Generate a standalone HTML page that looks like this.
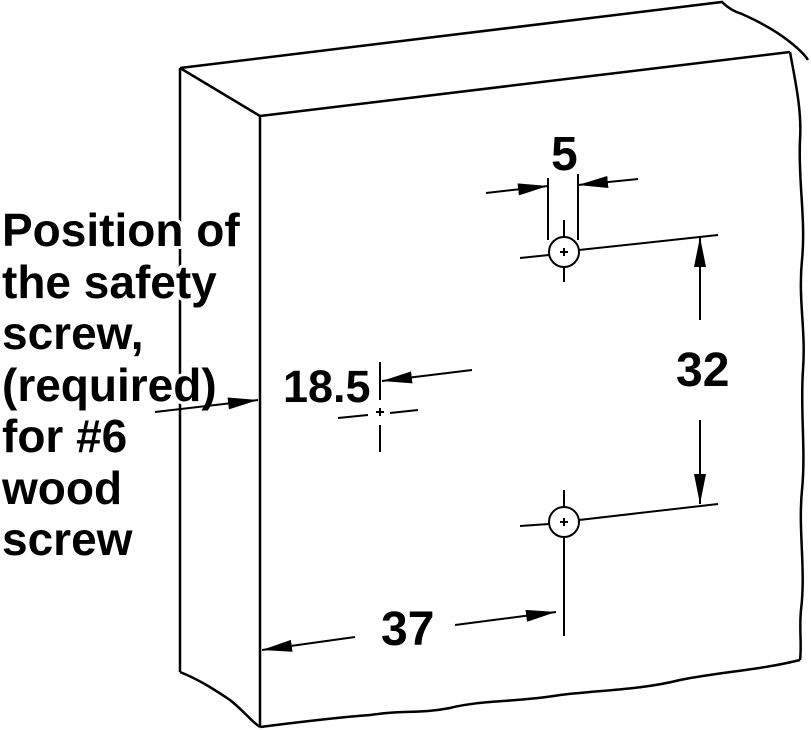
<!DOCTYPE html>
<html><head><meta charset="utf-8"><style>
html,body{margin:0;padding:0;background:#fff;}
svg{display:block}
text{font-family:"Liberation Sans",Arial,sans-serif;font-weight:bold;fill:#000}
.lbl text{stroke:#fff;stroke-width:6;paint-order:stroke;stroke-linejoin:round}
</style></head><body>
<svg width="811" height="730" viewBox="0 0 811 730" xmlns="http://www.w3.org/2000/svg">
<defs>
<marker id="b" viewBox="0 0 30 12" refX="30" refY="6" markerWidth="30" markerHeight="12" markerUnits="userSpaceOnUse" orient="auto">
<path d="M0,0 L30,6 L0,12 z" fill="#000"/></marker>
</defs>
<g fill="none" stroke="#000" stroke-width="2.5">
<path d="M180,68 L722,2 C728,8 735,12 742,14 C760,22 775,30 790,42 C800,50 805,55 808,60"/>
<path d="M260,116 L790,52"/>
<path d="M180,68 L260,116 L260,727"/>
<path d="M180,68 L180,672"/>
<path d="M180,672 C200,680 215,690 230,700 C245,712 252,722 260,727"/>
<path d="M260,727 C300,722 330,718 370,715 C400,710 420,714 450,708 C480,700 520,702 560,695 C600,690 640,690 680,680 C720,672 760,670 800,660"/>
<path d="M790,52 C795,80 802,110 800,140 C798,180 806,220 802,260 C798,300 806,330 803,370 C800,410 806,450 802,490 C798,530 806,570 801,610 C799,630 802,645 800,660"/>
</g>
<g class="lbl" font-size="46">
<text x="2" y="246">Position of</text>
<text x="2" y="298">the safety</text>
<text x="2" y="349">screw,</text>
<text x="2" y="401">(required)</text>
<text x="2" y="452">for #6</text>
<text x="2" y="504">wood</text>
<text x="2" y="555">screw</text>
</g>
<g fill="none" stroke="#000" stroke-width="2">
<line x1="548" y1="178" x2="548" y2="240"/>
<line x1="578" y1="174" x2="578" y2="240"/>
<line x1="486" y1="193" x2="548" y2="186" marker-end="url(#b)"/>
<line x1="638" y1="179" x2="578" y2="185" marker-end="url(#b)"/>
<circle cx="564" cy="252" r="15" fill="#fff"/>
<circle cx="564" cy="522" r="15" fill="#fff"/>
<line x1="520" y1="258" x2="549" y2="255"/>
<line x1="579" y1="250" x2="718" y2="235"/>
<line x1="520" y1="526" x2="549" y2="524"/>
<line x1="579" y1="520" x2="718" y2="504"/>
<line x1="564" y1="220" x2="564" y2="237"/>
<line x1="564" y1="267" x2="564" y2="282"/>
<line x1="564" y1="490" x2="564" y2="507"/>
<line x1="564" y1="537" x2="564" y2="636"/>
<line x1="560" y1="252" x2="568" y2="252"/><line x1="564" y1="248" x2="564" y2="256"/>
<line x1="560" y1="522" x2="568" y2="522"/><line x1="564" y1="518" x2="564" y2="526"/>
<line x1="700" y1="320" x2="700" y2="237" marker-end="url(#b)"/>
<line x1="700" y1="420" x2="700" y2="504" marker-end="url(#b)"/>
<line x1="472" y1="370" x2="382" y2="381" marker-end="url(#b)"/>
<line x1="380" y1="362" x2="380" y2="400"/>
<line x1="380" y1="425" x2="380" y2="452"/>
<line x1="338" y1="418" x2="368" y2="415"/>
<line x1="390" y1="413" x2="418" y2="410"/>
<line x1="376" y1="412" x2="384" y2="412"/><line x1="380" y1="408" x2="380" y2="416"/>
<line x1="155" y1="412" x2="258" y2="400" marker-end="url(#b)"/>
<line x1="355" y1="637" x2="262" y2="650" marker-end="url(#b)"/>
<line x1="455" y1="625" x2="556" y2="612" marker-end="url(#b)"/>
</g>
<g font-size="48">
<text x="551" y="170">5</text>
<text x="676" y="386">32</text>
<text x="283" y="402" font-size="45">18.5</text>
<text x="381" y="645">37</text>
</g>
</svg>
</body></html>
